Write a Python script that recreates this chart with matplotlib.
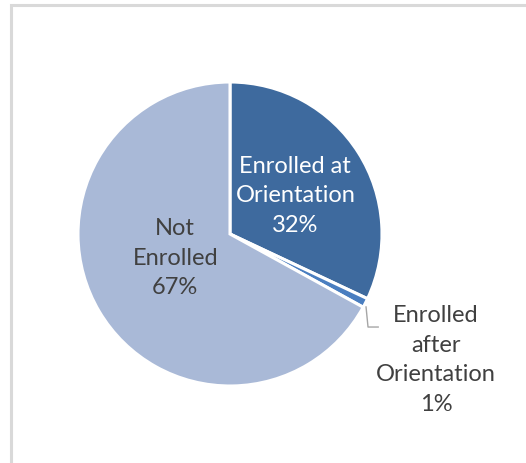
import matplotlib
matplotlib.use("Agg")
import matplotlib.pyplot as plt
from matplotlib.patches import Rectangle

# data
labels = ["Enrolled at\nOrientation", "Enrolled\nafter\nOrientation", "Not\nEnrolled"]
shares = [32, 1, 67]
colors = ["#3E6A9E", "#4A7EC0", "#A9B9D7"]

plt.rcParams["font.family"] = ["Lato", "DejaVu Sans"]

fig = plt.figure(figsize=(5.26, 4.63), dpi=100)

# chart area border (light gray, cut off at right and bottom)
fig.patches.append(Rectangle((11 / 526, -0.05), 1.0, 1 - 5.5 / 463 + 0.05,
                             transform=fig.transFigure, fill=False,
                             edgecolor="#D9D9D9", linewidth=2.2))

ax = fig.add_axes([78 / 526, 1 - 386 / 463, 304 / 526, 304 / 463])
wedges, _ = ax.pie(shares, colors=colors, startangle=90, counterclock=False,
                   radius=1, wedgeprops=dict(edgecolor="white", linewidth=2.2))
ax.set_xlim(-1, 1)
ax.set_ylim(-1, 1)
ax.set_aspect("equal")
ax.axis("off")

fs = 17
ls = 1.5
ax.text(0.43, 0.25, f"{labels[0]}\n{shares[0]}%", color="white", ha="center",
        va="center", fontsize=fs, linespacing=ls)
ax.text(-0.36, -0.16, f"{labels[2]}\n{shares[2]}%", color="#404040", ha="center",
        va="center", fontsize=fs, linespacing=ls)
ax.text(1.355, -0.83, f"{labels[1]}\n{shares[1]}%", color="#404040", ha="center",
        va="center", fontsize=fs, linespacing=ls, clip_on=False)

# leader line for the small slice
ax.plot([0.895, 0.908, 0.975], [-0.48, -0.612, -0.612], color="#A6A6A6",
        linewidth=1, clip_on=False)

fig.savefig("out.png", dpi=100)
